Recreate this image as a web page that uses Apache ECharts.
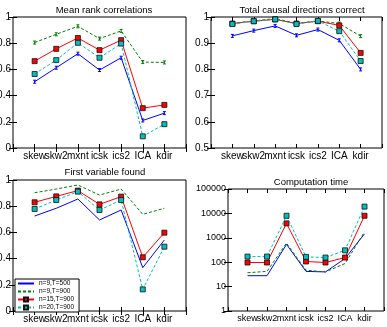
<!DOCTYPE html>
<html>
<head>
<meta charset="utf-8">
<script src="https://cdn.jsdelivr.net/npm/echarts@6/dist/echarts.min.js"></script>
<style>
html,body{margin:0;padding:0;background:#fff}
#chart{width:387px;height:327px}
</style>
</head>
<body>
<div id="chart"></div>
<script>
var methods = ['skew','skw2','mxnt','icsk','ics2','ICA','kdir'];
var setups = ['n=9,T=500','n=9,T=900','n=15,T=900','n=20,T=900'];
var titles = ['Mean rank correlations','Total causal directions correct','First variable found','Computation time'];

// mean rank correlations
var corrN9T500  = [0.506,0.613,0.720,0.595,0.689,0.210,0.266];
var corrN9T900  = [0.805,0.868,0.929,0.835,0.894,0.656,0.653];
var corrN15T900 = [0.663,0.757,0.840,0.747,0.823,0.304,0.329];
var corrN20T900 = [0.565,0.671,0.803,0.689,0.797,0.089,0.182];

// total causal directions correct
var dirN9T500  = [0.928,0.948,0.966,0.930,0.952,0.911,0.800];
var dirN9T900  = [0.976,0.985,0.994,0.976,0.985,0.975,0.927];
var dirN15T900 = [0.975,0.984,0.991,0.975,0.984,0.968,0.863];
var dirN20T900 = [0.973,0.984,0.991,0.973,0.985,0.946,0.832];

// first variable found
var firstN9T500  = [0.725,0.784,0.855,0.695,0.771,0.331,0.542];
var firstN9T900  = [0.903,0.931,0.962,0.885,0.931,0.738,0.784];
var firstN15T900 = [0.830,0.875,0.919,0.814,0.873,0.410,0.598];
var firstN20T900 = [0.779,0.847,0.911,0.771,0.847,0.165,0.491];

// computation time
var timeN9T500  = [28,28,537,42,40,141,1450];
var timeN9T900  = [37,42,605,47,40,88,1750];
var timeN15T900 = [97,97,3900,107,97,155,8000];
var timeN20T900 = [170,170,8000,165,155,307,19000];

var panels = [
  [corrN9T500, corrN9T900, corrN15T900, corrN20T900],
  [dirN9T500, dirN9T900, dirN15T900, dirN20T900],
  [firstN9T500, firstN9T900, firstN15T900, firstN20T900],
  [timeN9T500, timeN9T900, timeN15T900, timeN20T900]
];

var colors = ['#0000ff','#008000','#ff0000','#00bfbf'];
var dashed = [false,true,false,true];
var errSym = 'path://M0,0L4,0M2,0L2,4M0,4L4,4';

var grids = [
  {left:13, top:17, width:173, height:131},
  {left:211, top:17, width:171, height:131},
  {left:13, top:180, width:173, height:131},
  {left:228, top:189, width:156, height:122}
];
var yRanges = [
  {type:'value', min:0, max:1, interval:0.2},
  {type:'value', min:0.5, max:1, interval:0.1},
  {type:'value', min:0, max:1, interval:0.2},
  {type:'log', min:1, max:100000, logBase:10}
];
var titlePos = [[99,0],[297,0],[100,162],[306,172]];

var font = 'Liberation Sans, Arial, sans-serif';
var tick = {inside:true, length:4, lineStyle:{color:'#000', width:1}};

var xAxes = [], yAxes = [], series = [], titleList = [];

grids.forEach(function (g, i) {
  g.show = true;
  g.borderColor = '#000';
  g.borderWidth = 1;
  g.backgroundColor = 'transparent';
  g.outerBoundsMode = 'none';
  g.containLabel = false;

  xAxes.push({
    gridIndex:i, type:'value', min:0, max:8, interval:1, position:'bottom',
    axisLine:{show:false}, axisTick:tick, splitLine:{show:false},
    axisLabel:{
      color:'#000', fontSize:i === 3 ? 9 : 10, fontFamily:font, margin:3,
      hideOverlap:false,
      formatter:function (v) { return methods[v - 1] || ''; }
    }
  });
  xAxes.push({
    gridIndex:i, type:'value', min:0, max:8, interval:1, position:'top',
    axisLine:{show:false}, axisTick:tick, splitLine:{show:false},
    axisLabel:{show:false}
  });

  var yr = yRanges[i];
  yAxes.push(Object.assign({
    gridIndex:i, position:'left',
    axisLine:{show:false}, axisTick:tick, splitLine:{show:false},
    axisLabel:{color:'#000', fontSize:i === 3 ? 9 : 10, fontFamily:font, margin:2,
      formatter:function (v) { return i === 3 ? String(Math.round(v)) : String(+v.toFixed(2)); }}
  }, yr));
  yAxes.push(Object.assign({
    gridIndex:i, position:'right',
    axisLine:{show:false}, axisTick:tick, splitLine:{show:false},
    axisLabel:{show:false}
  }, yr));

  titleList.push({
    text:titles[i], left:titlePos[i][0], top:titlePos[i][1], textAlign:'center',
    textStyle:{fontSize:9.5, fontWeight:'normal', color:'#000', fontFamily:font}
  });
});

// panel 3 goes first so the legend takes its icons from it
var order = [2,0,1,3];
order.forEach(function (p) {
  panels[p].forEach(function (vals, k) {
    var sym = 'none', size = 0;
    var style = {color:colors[k]};
    if (k >= 2) {
      sym = 'rect'; size = 5;
      style = {color:colors[k], borderColor:'#111', borderWidth:0.8};
    } else if (p === 0 || p === 1) {
      sym = errSym; size = [3, 3];
      style = {color:colors[k], borderColor:colors[k], borderWidth:1};
    }
    series.push({
      name:setups[k], type:'line',
      xAxisIndex:2 * p, yAxisIndex:2 * p,
      data:vals.map(function (v, j) { return [j + 1, v]; }),
      symbol:sym, symbolSize:size, showSymbol:sym !== 'none',
      itemStyle:style,
      lineStyle:{color:colors[k], width:1, type:dashed[k] ? [3, 2] : 'solid'},
      animation:false, silent:true, z:2 + k
    });
  });
});

var legendData = setups.map(function (s, k) {
  return k < 2 ? {name:s, itemStyle:{opacity:0}} : {name:s};
});

var chart = echarts.init(document.getElementById('chart'), null, {renderer:'canvas'});
chart.setOption({
  animation:false,
  backgroundColor:'#fff',
  title:titleList,
  grid:grids,
  xAxis:xAxes,
  yAxis:yAxes,
  legend:{
    data:legendData, orient:'vertical', left:15, top:279,
    itemGap:1, itemWidth:16, itemHeight:5, padding:[1,5,1,2],
    borderColor:'#000', borderWidth:1, backgroundColor:'#fff',
    selectedMode:false,
    textStyle:{fontSize:6.5, color:'#000', fontFamily:font}
  },
  series:series
});
</script>
</body>
</html>
